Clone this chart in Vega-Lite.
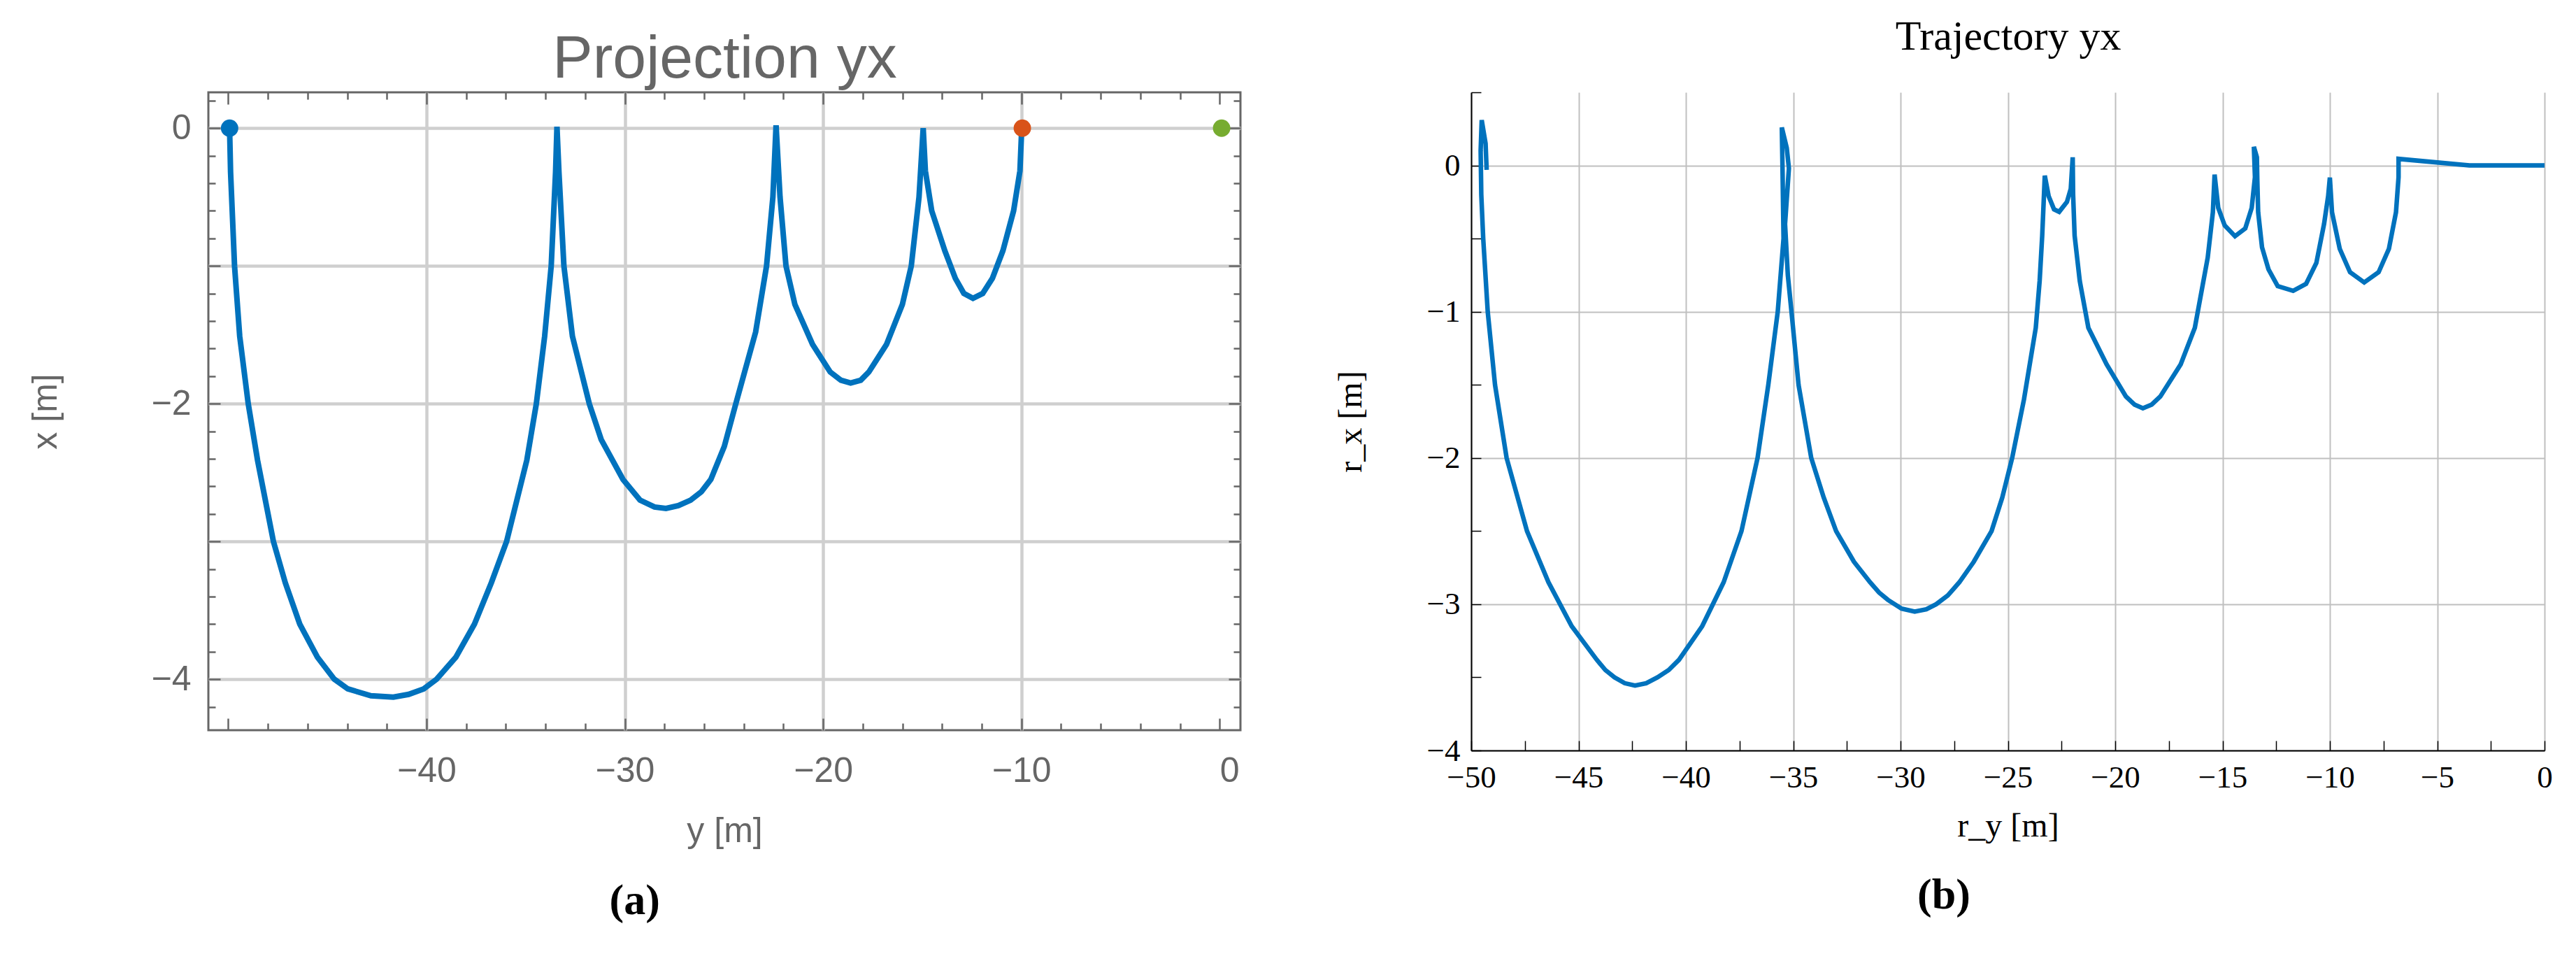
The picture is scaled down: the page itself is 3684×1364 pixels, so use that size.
{
  "$schema": "https://vega.github.io/schema/vega-lite/v6.json",
  "background": "white",
  "padding": {"left": 38, "top": 22, "right": 0, "bottom": 0},
  "config": {"view": {"stroke": null}},
  "spacing": 131,
  "datasets": {
    "proj": [
      {"i":1,"y_m":-49.93,"x_m":0},{"i":2,"y_m":-49.88,"x_m":-0.32},{"i":3,"y_m":-49.68,"x_m":-1},{"i":4,"y_m":-49.42,"x_m":-1.51},
      {"i":5,"y_m":-48.99,"x_m":-2},{"i":6,"y_m":-48.52,"x_m":-2.41},{"i":7,"y_m":-47.72,"x_m":-3},{"i":8,"y_m":-47.12,"x_m":-3.3},
      {"i":9,"y_m":-46.39,"x_m":-3.6},{"i":10,"y_m":-45.5,"x_m":-3.84},{"i":11,"y_m":-44.65,"x_m":-4},{"i":12,"y_m":-43.97,"x_m":-4.07},
      {"i":13,"y_m":-42.8,"x_m":-4.12},{"i":14,"y_m":-41.67,"x_m":-4.13},{"i":15,"y_m":-40.9,"x_m":-4.11},{"i":16,"y_m":-40.14,"x_m":-4.07},
      {"i":17,"y_m":-39.49,"x_m":-4},{"i":18,"y_m":-38.52,"x_m":-3.84},{"i":19,"y_m":-37.58,"x_m":-3.6},{"i":20,"y_m":-36.73,"x_m":-3.3},
      {"i":21,"y_m":-35.96,"x_m":-3},{"i":22,"y_m":-34.94,"x_m":-2.41},{"i":23,"y_m":-34.46,"x_m":-2},{"i":24,"y_m":-34.04,"x_m":-1.51},
      {"i":25,"y_m":-33.71,"x_m":-1},{"i":26,"y_m":-33.49,"x_m":-0.32},{"i":27,"y_m":-33.42,"x_m":0.01},{"i":28,"y_m":-33.32,"x_m":-0.32},
      {"i":29,"y_m":-33.07,"x_m":-1},{"i":30,"y_m":-32.64,"x_m":-1.51},{"i":31,"y_m":-31.79,"x_m":-2},{"i":32,"y_m":-31.19,"x_m":-2.26},
      {"i":33,"y_m":-30.09,"x_m":-2.55},{"i":34,"y_m":-29.23,"x_m":-2.7},{"i":35,"y_m":-28.5,"x_m":-2.75},{"i":36,"y_m":-27.92,"x_m":-2.76},
      {"i":37,"y_m":-27.3,"x_m":-2.74},{"i":38,"y_m":-26.68,"x_m":-2.7},{"i":39,"y_m":-26.14,"x_m":-2.64},{"i":40,"y_m":-25.66,"x_m":-2.55},
      {"i":41,"y_m":-24.98,"x_m":-2.31},{"i":42,"y_m":-24.4,"x_m":-2.0},{"i":43,"y_m":-23.4,"x_m":-1.48},{"i":44,"y_m":-22.85,"x_m":-1},
      {"i":45,"y_m":-22.53,"x_m":-0.5},{"i":46,"y_m":-22.37,"x_m":0.02},{"i":47,"y_m":-22.17,"x_m":-0.5},{"i":48,"y_m":-21.87,"x_m":-1},
      {"i":49,"y_m":-21.42,"x_m":-1.28},{"i":50,"y_m":-20.53,"x_m":-1.57},{"i":51,"y_m":-19.64,"x_m":-1.77},{"i":52,"y_m":-19.1,"x_m":-1.83},
      {"i":53,"y_m":-18.61,"x_m":-1.85},{"i":54,"y_m":-18.1,"x_m":-1.83},{"i":55,"y_m":-17.69,"x_m":-1.77},{"i":56,"y_m":-16.8,"x_m":-1.57},
      {"i":57,"y_m":-16.0,"x_m":-1.28},{"i":58,"y_m":-15.55,"x_m":-1},{"i":59,"y_m":-15.16,"x_m":-0.5},{"i":60,"y_m":-14.95,"x_m":0.0},
      {"i":61,"y_m":-14.84,"x_m":-0.31},{"i":62,"y_m":-14.52,"x_m":-0.6},{"i":63,"y_m":-13.86,"x_m":-0.89},{"i":64,"y_m":-13.33,"x_m":-1.09},
      {"i":65,"y_m":-12.9,"x_m":-1.2},{"i":66,"y_m":-12.44,"x_m":-1.235},{"i":67,"y_m":-11.95,"x_m":-1.2},{"i":68,"y_m":-11.46,"x_m":-1.09},
      {"i":69,"y_m":-10.93,"x_m":-0.89},{"i":70,"y_m":-10.39,"x_m":-0.6},{"i":71,"y_m":-10.07,"x_m":-0.31},{"i":72,"y_m":-9.98,"x_m":0}
    ],
    "markers": [
      {"role":"start","y_m":-49.93,"x_m":0},
      {"role":"current","y_m":-9.95,"x_m":0},
      {"role":"goal","y_m":0.1,"x_m":0}
    ],
    "traj": [
      {"i":1,"ry":-49.28,"rx":-0.03},{"i":2,"ry":-49.33,"rx":0.15},{"i":3,"ry":-49.51,"rx":0.31},{"i":4,"ry":-49.56,"rx":0.1},
      {"i":5,"ry":-49.53,"rx":-0.2},{"i":6,"ry":-49.44,"rx":-0.5},{"i":7,"ry":-49.23,"rx":-1},{"i":8,"ry":-48.89,"rx":-1.5},
      {"i":9,"ry":-48.35,"rx":-2},{"i":10,"ry":-47.4,"rx":-2.5},{"i":11,"ry":-46.4,"rx":-2.85},{"i":12,"ry":-45.32,"rx":-3.15},
      {"i":13,"ry":-44.15,"rx":-3.38},{"i":13.5,"ry":-43.75,"rx":-3.45},{"i":14,"ry":-43.32,"rx":-3.5},{"i":14.5,"ry":-42.85,"rx":-3.54},
      {"i":15,"ry":-42.37,"rx":-3.556},{"i":15.5,"ry":-41.85,"rx":-3.54},{"i":16,"ry":-41.32,"rx":-3.5},{"i":16.5,"ry":-40.8,"rx":-3.45},
      {"i":17,"ry":-40.32,"rx":-3.38},{"i":18,"ry":-39.24,"rx":-3.15},{"i":19,"ry":-38.24,"rx":-2.85},{"i":20,"ry":-37.41,"rx":-2.5},
      {"i":21,"ry":-36.66,"rx":-2},{"i":22,"ry":-36.16,"rx":-1.5},{"i":23,"ry":-35.72,"rx":-1},{"i":24,"ry":-35.45,"rx":-0.5},
      {"i":25,"ry":-35.5,"rx":0.0},{"i":26,"ry":-35.53,"rx":0.26},{"i":27,"ry":-35.3,"rx":0.12},{"i":28,"ry":-35.2,"rx":-0.02},
      {"i":29,"ry":-35.38,"rx":-0.4},{"i":30,"ry":-35.25,"rx":-0.75},{"i":31,"ry":-35.08,"rx":-1},{"i":32,"ry":-34.75,"rx":-1.5},
      {"i":33,"ry":-34.16,"rx":-2},{"i":34,"ry":-33.58,"rx":-2.27},{"i":35,"ry":-33.0,"rx":-2.5},{"i":36,"ry":-32.17,"rx":-2.71},
      {"i":37,"ry":-31.42,"rx":-2.85},{"i":37.5,"ry":-31.0,"rx":-2.92},{"i":38,"ry":-30.59,"rx":-2.97},{"i":38.5,"ry":-29.95,"rx":-3.03},
      {"i":39,"ry":-29.34,"rx":-3.05},{"i":39.5,"ry":-28.8,"rx":-3.035},{"i":40,"ry":-28.34,"rx":-3.0},{"i":40.5,"ry":-27.8,"rx":-2.94},
      {"i":41,"ry":-27.26,"rx":-2.85},{"i":42,"ry":-26.59,"rx":-2.71},{"i":43,"ry":-25.76,"rx":-2.5},{"i":44,"ry":-25.26,"rx":-2.27},
      {"i":45,"ry":-24.8,"rx":-2},{"i":46,"ry":-24.25,"rx":-1.6},{"i":47,"ry":-23.7,"rx":-1.11},{"i":48,"ry":-23.52,"rx":-0.79},
      {"i":49,"ry":-23.4,"rx":-0.48},{"i":50,"ry":-23.28,"rx":-0.07},{"i":51,"ry":-23.1,"rx":-0.21},{"i":52,"ry":-22.85,"rx":-0.3},
      {"i":53,"ry":-22.61,"rx":-0.317},{"i":54,"ry":-22.25,"rx":-0.25},{"i":55,"ry":-22.07,"rx":-0.16},{"i":56,"ry":-21.98,"rx":0.056},
      {"i":57,"ry":-21.96,"rx":-0.2},{"i":58,"ry":-21.89,"rx":-0.48},{"i":59,"ry":-21.65,"rx":-0.79},{"i":60,"ry":-21.25,"rx":-1.11},
      {"i":61,"ry":-20.4,"rx":-1.36},{"i":62,"ry":-19.5,"rx":-1.58},{"i":62.5,"ry":-19.1,"rx":-1.635},{"i":63,"ry":-18.71,"rx":-1.66},
      {"i":63.5,"ry":-18.3,"rx":-1.635},{"i":64,"ry":-17.9,"rx":-1.58},
      {"i":65,"ry":-16.95,"rx":-1.36},{"i":66,"ry":-16.29,"rx":-1.11},{"i":67,"ry":-15.69,"rx":-0.63},{"i":68,"ry":-15.45,"rx":-0.32},
      {"i":69,"ry":-15.37,"rx":-0.063},{"i":70,"ry":-15.2,"rx":-0.29},{"i":71,"ry":-14.9,"rx":-0.41},{"i":72,"ry":-14.42,"rx":-0.484},
      {"i":73,"ry":-13.94,"rx":-0.43},{"i":74,"ry":-13.64,"rx":-0.29},{"i":75,"ry":-13.49,"rx":-0.08},{"i":76,"ry":-13.54,"rx":0.127},
      {"i":77,"ry":-13.4,"rx":0.056},{"i":78,"ry":-13.38,"rx":-0.1},{"i":79,"ry":-13.34,"rx":-0.32},{"i":80,"ry":-13.16,"rx":-0.56},
      {"i":81,"ry":-12.86,"rx":-0.71},{"i":82,"ry":-12.43,"rx":-0.825},{"i":83,"ry":-11.71,"rx":-0.857},{"i":84,"ry":-11.11,"rx":-0.81},
      {"i":85,"ry":-10.63,"rx":-0.667},{"i":86,"ry":-10.27,"rx":-0.4},{"i":87,"ry":-10.08,"rx":-0.21},{"i":88,"ry":-10.0,"rx":-0.083},
      {"i":89,"ry":-9.9,"rx":-0.32},{"i":90,"ry":-9.54,"rx":-0.57},{"i":91,"ry":-9.06,"rx":-0.73},{"i":92,"ry":-8.4,"rx":-0.8},
      {"i":93,"ry":-7.73,"rx":-0.73},{"i":94,"ry":-7.25,"rx":-0.57},{"i":95,"ry":-6.92,"rx":-0.32},{"i":96,"ry":-6.8,"rx":-0.08},
      {"i":97,"ry":-6.8,"rx":0.045},{"i":98,"ry":-3.5,"rx":0.0},{"i":99,"ry":0,"rx":0}
    ]
  },
  "hconcat": [
    {
      "width": 1476,
      "height": 912,
      "view": {"stroke": "#666666", "strokeWidth": 3},
      "title": {"text": "(a)", "orient": "bottom", "anchor": "middle", "frame": "bounds", "font": "Liberation Serif", "fontSize": 62, "fontWeight": "bold", "color": "black", "offset": 45},
      "layer": [
        {
          "data": {"name": "proj"},
          "mark": {"type": "line", "color": "#0072BD", "strokeWidth": 8, "strokeCap": "butt"},
          "encoding": {
            "x": {
              "field": "y_m", "type": "quantitative",
              "scale": {"domain": [-51, 1.05], "nice": false, "zero": false},
              "axis": {
                "orient": "bottom",
                "values": [-50,-48,-46,-44,-42,-40,-38,-36,-34,-32,-30,-28,-26,-24,-22,-20,-18,-16,-14,-12,-10,-8,-6,-4,-2,0],
                "format": ".0f",
                "labelExpr": "datum.value % 10 === 0 && datum.value > -50 ? datum.label : ''",
                "labelFont": "Liberation Sans", "labelFontSize": 50, "labelColor": "#666666", "labelPadding": 50,
                "labelAlign": {"condition": {"test": "datum.value === 0", "value": "left"}, "value": "center"},
                "labelOverlap": false, "labelFlush": false,
                "domain": false,
                "grid": true, "gridColor": "#cfcfcf", "gridWidth": 4.5,
                "gridOpacity": {"condition": {"test": "datum.value % 10 === 0 && datum.value > -50 && datum.value < 0", "value": 1}, "value": 0},
                "ticks": true, "tickColor": "#666666", "tickWidth": 2.5,
                "tickSize": {"condition": {"test": "datum.value % 10 === 0", "value": -17}, "value": -10},
                "title": "y [m]", "titleFont": "Liberation Sans", "titleFontSize": 50, "titleFontWeight": "normal", "titleColor": "#666666",
                "titleBaseline": "middle", "titleY": 144
              }
            },
            "y": {
              "field": "x_m", "type": "quantitative",
              "scale": {"domain": [-4.37, 0.26], "nice": false, "zero": false},
              "axis": {
                "orient": "left",
                "values": [-4.2,-4,-3.8,-3.6,-3.4,-3.2,-3,-2.8,-2.6,-2.4,-2.2,-2,-1.8,-1.6,-1.4,-1.2,-1,-0.8,-0.6,-0.4,-0.2,0,0.2],
                "format": ".0f",
                "labelExpr": "abs(datum.value % 2) < 0.001 ? datum.label : ''",
                "labelFont": "Liberation Sans", "labelFontSize": 50, "labelColor": "#666666", "labelPadding": 42,
                "labelOverlap": false, "labelFlush": false,
                "domain": false,
                "grid": true, "gridColor": "#cfcfcf", "gridWidth": 4.5,
                "gridOpacity": {"condition": {"test": "abs(datum.value - round(datum.value)) < 0.001", "value": 1}, "value": 0},
                "ticks": true, "tickColor": "#666666", "tickWidth": 2.5,
                "tickSize": {"condition": {"test": "abs(datum.value - round(datum.value)) < 0.001", "value": -17}, "value": -10},
                "title": "x [m]", "titleFont": "Liberation Sans", "titleFontSize": 50, "titleFontWeight": "normal", "titleColor": "#666666",
                "titleBaseline": "middle", "titleX": -233
              }
            },
            "order": {"field": "i", "type": "quantitative"}
          }
        },
        {
          "data": {"name": "markers"},
          "mark": {"type": "circle", "size": 620, "opacity": 1},
          "encoding": {
            "x": {
              "field": "y_m", "type": "quantitative",
              "axis": {
                "orient": "top",
                "values": [-50,-48,-46,-44,-42,-40,-38,-36,-34,-32,-30,-28,-26,-24,-22,-20,-18,-16,-14,-12,-10,-8,-6,-4,-2,0],
                "labels": false, "domain": false, "grid": false,
                "ticks": true, "tickColor": "#666666", "tickWidth": 2.5,
                "tickSize": {"condition": {"test": "datum.value % 10 === 0", "value": -17}, "value": -10},
                "title": "Projection yx", "titleFont": "Liberation Sans", "titleFontSize": 86, "titleFontWeight": "normal", "titleColor": "#666666",
                "titleBaseline": "alphabetic", "titleY": -22
              }
            },
            "y": {
              "field": "x_m", "type": "quantitative",
              "axis": {
                "orient": "right",
                "values": [-4.2,-4,-3.8,-3.6,-3.4,-3.2,-3,-2.8,-2.6,-2.4,-2.2,-2,-1.8,-1.6,-1.4,-1.2,-1,-0.8,-0.6,-0.4,-0.2,0,0.2],
                "labels": false, "domain": false, "grid": false,
                "ticks": true, "tickColor": "#666666", "tickWidth": 2.5,
                "tickSize": {"condition": {"test": "abs(datum.value - round(datum.value)) < 0.001", "value": -17}, "value": -10},
                "title": null
              }
            },
            "color": {
              "field": "role", "type": "nominal",
              "scale": {"domain": ["start", "current", "goal"], "range": ["#0072BD", "#D95319", "#77AC30"]},
              "legend": null
            }
          }
        }
      ],
      "resolve": {"axis": {"x": "independent", "y": "independent"}}
    },
    {
      "width": 1535,
      "height": 941,
      "title": {"text": "(b)", "orient": "bottom", "anchor": "middle", "frame": "bounds", "font": "Liberation Serif", "fontSize": 62, "fontWeight": "bold", "color": "black", "offset": 45},
      "layer": [
        {
          "data": {"name": "traj"},
          "mark": {"type": "line", "color": "#0072BD", "strokeWidth": 6.5},
          "encoding": {
            "x": {
              "field": "ry", "type": "quantitative",
              "scale": {"domain": [-50, 0], "nice": false, "zero": false},
              "axis": {
                "orient": "bottom",
                "values": [-50,-47.5,-45,-42.5,-40,-37.5,-35,-32.5,-30,-27.5,-25,-22.5,-20,-17.5,-15,-12.5,-10,-7.5,-5,-2.5,0],
                "format": ".0f",
                "labelExpr": "datum.value % 5 === 0 ? datum.label : ''",
                "labelFont": "Liberation Serif", "labelFontSize": 45, "labelColor": "black", "labelPadding": 30,
                "labelOverlap": false, "labelFlush": false,
                "domain": true, "domainColor": "black", "domainWidth": 2,
                "grid": true, "gridColor": "#c0c0c0", "gridWidth": 2,
                "gridOpacity": {"condition": {"test": "datum.value % 5 === 0", "value": 1}, "value": 0},
                "ticks": true, "tickColor": "black", "tickWidth": 1.5, "tickSize": -14,
                "title": "r_y [m]", "titleFont": "Liberation Serif", "titleFontSize": 48, "titleFontWeight": "normal", "titleColor": "black",
                "titleBaseline": "middle", "titleY": 108
              }
            },
            "y": {
              "field": "rx", "type": "quantitative",
              "scale": {"domain": [-4, 0.5], "nice": false, "zero": false},
              "axis": {
                "orient": "left",
                "values": [-4,-3.5,-3,-2.5,-2,-1.5,-1,-0.5,0,0.5],
                "format": ".0f",
                "labelExpr": "abs(datum.value - round(datum.value)) < 0.001 ? datum.label : ''",
                "labelFont": "Liberation Serif", "labelFontSize": 45, "labelColor": "black", "labelPadding": 30,
                "labelOverlap": false, "labelFlush": false,
                "domain": true, "domainColor": "black", "domainWidth": 2,
                "grid": true, "gridColor": "#c0c0c0", "gridWidth": 2,
                "gridOpacity": {"condition": {"test": "abs(datum.value - round(datum.value)) < 0.001", "value": 1}, "value": 0},
                "ticks": true, "tickColor": "black", "tickWidth": 1.5, "tickSize": -14,
                "title": "r_x [m]", "titleFont": "Liberation Serif", "titleFontSize": 48, "titleFontWeight": "normal", "titleColor": "black",
                "titleBaseline": "middle", "titleX": -172
              }
            },
            "order": {"field": "i", "type": "quantitative"}
          }
        },
        {
          "data": {"name": "traj"},
          "mark": {"type": "line", "color": "#0072BD", "strokeWidth": 6.5, "opacity": 0},
          "encoding": {
            "x": {
              "field": "ry", "type": "quantitative",
              "axis": {
                "orient": "top", "labels": false, "ticks": false, "domain": false, "grid": false,
                "title": "Trajectory yx", "titleFont": "Liberation Serif", "titleFontSize": 60, "titleFontWeight": "normal", "titleColor": "black",
                "titleBaseline": "alphabetic", "titleY": -62
              }
            },
            "y": {"field": "rx", "type": "quantitative"},
            "order": {"field": "i", "type": "quantitative"}
          }
        }
      ],
      "resolve": {"axis": {"x": "independent"}}
    }
  ]
}
